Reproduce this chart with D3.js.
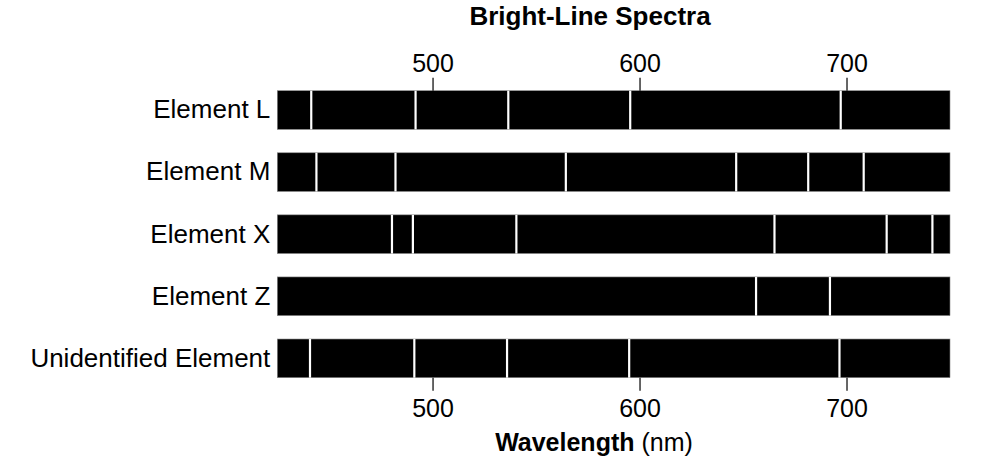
<!DOCTYPE html>
<html>
<head>
<meta charset="utf-8">
<script src="https://cdn.jsdelivr.net/npm/d3@7"></script>
<style>
  html, body { margin: 0; padding: 0; background: #fff; }
  svg { display: block; }
  text { font-family: "Liberation Sans", Arial, Helvetica, sans-serif; fill: #000; }
</style>
</head>
<body>
<svg id="chart" width="999" height="475"></svg>
<script>
// ---- Data ----
const elements = ["Element L", "Element M", "Element X", "Element Z", "Unidentified Element"];
const linesL = [441.4, 491.8, 536.6, 595.5, 697.2];
const linesM = [443.9, 482.1, 564.4, 646.7, 681.5, 708.3];
const linesX = [480.4, 490.5, 540.5, 665.2, 719.4, 741.5];
const linesZ = [656.3, 692.0];
const linesU = [440.8, 491.2, 536.0, 595.0, 696.6];
const spectra = [linesL, linesM, linesX, linesZ, linesU];
const wavelengthDomain = [425, 750];
const tickValues = [500, 600, 700];
const titleText = "Bright-Line Spectra";
const xLabelBold = "Wavelength";
const xLabelRest = " (nm)";

// ---- Layout ----
const svg = d3.select("#chart");
const x = d3.scaleLinear().domain(wavelengthDomain).range([277.3, 950]);
const y = d3.scaleBand().domain(elements).range([67.3, 401.1]).paddingInner(0.377).paddingOuter(0.377);

// bars
const rows = svg.append("g").selectAll("g").data(elements).join("g")
  .attr("transform", d => `translate(0,${y(d)})`);

rows.append("rect")
  .attr("x", x(wavelengthDomain[0]))
  .attr("width", x(wavelengthDomain[1]) - x(wavelengthDomain[0]))
  .attr("height", y.bandwidth())
  .attr("fill", "#000")
  .attr("stroke", "#888")
  .attr("stroke-width", 0.6);

rows.selectAll("line.spec").data((d, i) => spectra[i]).join("line")
  .attr("class", "spec")
  .attr("x1", d => x(d)).attr("x2", d => x(d))
  .attr("y1", 0).attr("y2", y.bandwidth())
  .attr("stroke", "#fff")
  .attr("stroke-width", 2.2);

// axes
const topAxis = d3.axisTop(x).tickValues(tickValues).tickSize(13).tickPadding(6).tickFormat(d3.format("d"));
const botAxis = d3.axisBottom(x).tickValues(tickValues).tickSize(13).tickPadding(9).tickFormat(d3.format("d"));

const gTop = svg.append("g").attr("transform", `translate(0,${y(elements[0])})`).call(topAxis);
const gBot = svg.append("g").attr("transform", `translate(0,${y(elements[elements.length-1]) + y.bandwidth()})`).call(botAxis);
[gTop, gBot].forEach(g => {
  g.select(".domain").remove();
  g.selectAll(".tick line").attr("stroke", "#000").attr("stroke-width", 1.2);
  g.selectAll(".tick text").attr("font-size", 25).attr("font-family", null);
});

const leftAxis = d3.axisLeft(y).tickSize(0).tickPadding(7);
const gLeft = svg.append("g").attr("transform", `translate(${x(wavelengthDomain[0])},0)`).call(leftAxis);
gLeft.select(".domain").remove();
gLeft.selectAll(".tick text").attr("font-size", 26).attr("font-family", null);

// title
svg.append("text")
  .attr("x", 590).attr("y", 25)
  .attr("text-anchor", "middle")
  .attr("font-size", 26).attr("font-weight", "bold")
  .text(titleText);

// x label
const xl = svg.append("text")
  .attr("x", 594).attr("y", 451)
  .attr("text-anchor", "middle")
  .attr("font-size", 25);
xl.append("tspan").attr("font-weight", "bold").text(xLabelBold);
xl.append("tspan").text(xLabelRest);
</script>
</body>
</html>
